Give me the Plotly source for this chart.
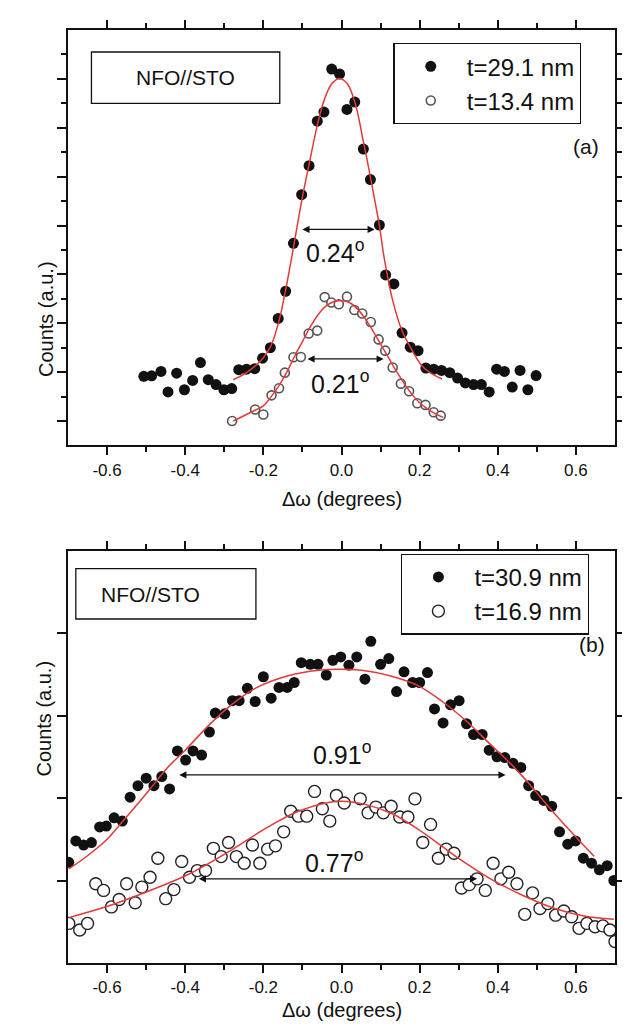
import plotly.graph_objects as go

FONT = "Liberation Sans, Arial, Helvetica, sans-serif"
INK = "#111111"
RED = "#e23b36"

# ---------------- Panel (a) data ----------------
a_thick_x = [-0.506, -0.486, -0.462, -0.444, -0.422, -0.402, -0.381, -0.361, -0.341, -0.321,
             -0.301, -0.281, -0.263, -0.243, -0.222, -0.202, -0.182, -0.162, -0.143, -0.123,
             -0.102, -0.083, -0.062, -0.045, -0.025, -0.005, 0.014, 0.034, 0.056, 0.074,
             0.097, 0.113, 0.134, 0.155, 0.176, 0.196, 0.216, 0.236, 0.256, 0.277,
             0.297, 0.317, 0.338, 0.358, 0.378, 0.397, 0.417, 0.437, 0.457, 0.477, 0.498]
a_thick_y = [2.83, 2.85, 3.03, 2.19, 2.96, 2.28, 2.66, 3.39, 2.69, 2.49,
             2.28, 2.33, 3.10, 3.12, 3.14, 3.57, 4.00, 5.20, 6.31, 8.27,
             10.26, 11.45, 13.27, 13.64, 15.40, 15.20, 13.75, 14.05, 12.13, 10.88,
             9.02, 6.98, 6.61, 4.61, 4.02, 3.88, 3.17, 3.12, 3.07, 2.98,
             2.76, 2.56, 2.49, 2.49, 2.19, 3.12, 3.03, 2.39, 3.07, 2.28, 2.86]

a_thin_x = [-0.280, -0.221, -0.200, -0.179, -0.160, -0.145, -0.123, -0.104, -0.084, -0.062,
            -0.043, -0.026, -0.007, 0.014, 0.033, 0.053, 0.075, 0.095, 0.112, 0.131,
            0.152, 0.173, 0.194, 0.215, 0.236, 0.254]
a_thin_y = [1.00, 1.47, 1.27, 2.05, 2.34, 2.98, 3.61, 3.62, 4.58, 4.70,
            6.07, 5.85, 5.78, 6.09, 5.54, 5.40, 5.05, 4.34, 3.88, 3.19,
            2.53, 2.22, 1.73, 1.66, 1.36, 1.22]

a_fit_thick_x = [-0.277, -0.242, -0.202, -0.180, -0.160, -0.145, -0.123, -0.102, -0.083, -0.062,
                 -0.045, -0.025, -0.005, 0.015, 0.035, 0.054, 0.075, 0.089, 0.097, 0.110,
                 0.130, 0.156, 0.177, 0.206, 0.230, 0.257]
a_fit_thick_y = [2.69, 2.99, 3.55, 4.10, 5.10, 6.20, 8.10, 10.00, 11.50, 13.10,
                 14.10, 14.80, 15.02, 14.80, 14.00, 12.60, 10.90, 9.70, 9.00, 7.60,
                 6.00, 4.65, 4.00, 3.25, 2.95, 2.72]

a_fit_thin_x = [-0.277, -0.22, -0.20, -0.18, -0.16, -0.14, -0.12, -0.10, -0.08, -0.06,
                -0.04, -0.02, 0.00, 0.02, 0.04, 0.06, 0.08, 0.10, 0.12, 0.14,
                0.16, 0.18, 0.20, 0.22, 0.24, 0.26]
a_fit_thin_y = [1.00, 1.45, 1.62, 2.00, 2.45, 3.00, 3.65, 4.25, 4.85, 5.35,
                5.70, 5.88, 5.92, 5.85, 5.60, 5.20, 4.70, 4.15, 3.60, 3.05,
                2.55, 2.10, 1.75, 1.50, 1.30, 1.15]

# ---------------- Panel (b) data ----------------
b_thick_x = [-0.698, -0.680, -0.660, -0.640, -0.619, -0.602, -0.582, -0.561, -0.541, -0.521,
             -0.500, -0.480, -0.460, -0.440, -0.420, -0.399, -0.380, -0.358, -0.338, -0.323,
             -0.299, -0.279, -0.262, -0.241, -0.221, -0.200, -0.180, -0.160, -0.139, -0.121,
             -0.103, -0.080, -0.060, -0.039, -0.022, -0.002, 0.019, 0.039, 0.060, 0.075,
             0.100, 0.121, 0.141, 0.160, 0.182, 0.200, 0.220, 0.238, 0.260, 0.279,
             0.301, 0.320, 0.338, 0.360, 0.378, 0.398, 0.418, 0.439, 0.459, 0.479,
             0.497, 0.518, 0.538, 0.558, 0.579, 0.599, 0.619, 0.640, 0.660, 0.680, 0.697]
b_thick_y = [1.22, 1.48, 1.43, 1.46, 1.65, 1.66, 1.76, 1.72, 2.01, 2.15,
             2.24, 2.15, 2.26, 2.11, 2.57, 2.46, 2.57, 2.52, 2.80, 3.03,
             3.02, 3.18, 3.18, 3.33, 3.17, 3.47, 3.21, 3.34, 3.34, 3.40,
             3.64, 3.62, 3.62, 3.49, 3.67, 3.71, 3.61, 3.71, 3.44, 3.90,
             3.62, 3.69, 3.29, 3.53, 3.40, 3.40, 3.52, 3.08, 2.91, 3.13,
             3.18, 2.90, 2.77, 2.77, 2.58, 2.50, 2.49, 2.42, 2.37, 2.15,
             2.03, 1.97, 1.90, 1.59, 1.44, 1.48, 1.27, 1.21, 1.13, 1.18, 1.00]

b_thin_x = [-0.698, -0.670, -0.650, -0.629, -0.609, -0.589, -0.569, -0.550, -0.528, -0.511,
            -0.490, -0.470, -0.450, -0.429, -0.409, -0.389, -0.369, -0.348, -0.328, -0.308,
            -0.289, -0.269, -0.249, -0.228, -0.209, -0.189, -0.169, -0.148, -0.130, -0.110,
            -0.089, -0.069, -0.049, -0.030, -0.013, 0.007, 0.048, 0.068, 0.088, 0.107,
            0.127, 0.149, 0.170, 0.188, 0.208, 0.228, 0.248, 0.268, 0.288, 0.307,
            0.327, 0.347, 0.368, 0.388, 0.408, 0.428, 0.449, 0.469, 0.489, 0.508,
            0.528, 0.548, 0.569, 0.589, 0.608, 0.628, 0.649, 0.669, 0.687, 0.700]
b_thin_y = [0.48, 0.40, 0.48, 0.96, 0.88, 0.68, 0.77, 0.96, 0.73, 0.92,
            1.04, 1.27, 0.78, 0.89, 1.23, 1.04, 1.12, 1.12, 1.39, 1.29,
            1.46, 1.29, 1.21, 1.43, 1.21, 1.38, 1.42, 1.59, 1.84, 1.78,
            1.78, 2.08, 1.87, 1.72, 2.03, 1.94, 1.99, 1.82, 1.89, 1.82,
            1.90, 1.77, 1.77, 1.99, 1.46, 1.68, 1.27, 1.38, 1.33, 0.91,
            0.95, 1.02, 0.88, 1.21, 1.02, 1.10, 0.96, 0.59, 0.85, 0.66,
            0.72, 0.58, 0.63, 0.56, 0.42, 0.48, 0.44, 0.45, 0.40, 0.26]

b_fit_thick_x = [-0.698, -0.650, -0.602, -0.556, -0.495, -0.445, -0.400, -0.338, -0.282, -0.221,
                 -0.139, -0.058, 0.000, 0.065, 0.126, 0.197, 0.258, 0.320, 0.381, 0.432,
                 0.479, 0.540, 0.601, 0.647]
b_fit_thick_y = [1.14, 1.30, 1.49, 1.74, 2.08, 2.37, 2.58, 2.89, 3.13, 3.33,
                 3.48, 3.55, 3.56, 3.54, 3.48, 3.36, 3.17, 2.93, 2.65, 2.42,
                 2.18, 1.84, 1.52, 1.29]

b_fit_thin_x = [-0.698, -0.597, -0.495, -0.394, -0.292, -0.191, -0.110, -0.008, 0.063, 0.134,
                0.215, 0.296, 0.378, 0.459, 0.540, 0.621, 0.697]
b_fit_thin_y = [0.55, 0.69, 0.87, 1.07, 1.34, 1.64, 1.84, 1.96, 1.92, 1.80,
                1.56, 1.28, 1.03, 0.83, 0.67, 0.57, 0.53]

# ticks
x_tick_vals = [-0.6, -0.4, -0.2, 0.0, 0.2, 0.4, 0.6]
x_tick_text = ["-0.6", "-0.4", "-0.2", "0.0", "0.2", "0.4", "0.6"]
x_minor_vals = [-0.5, -0.3, -0.1, 0.1, 0.3, 0.5]
a_y_major = [1, 3, 5, 7, 9, 11, 13, 15]
a_y_minor = [2, 4, 6, 8, 10, 12, 14, 16]
b_y_major = [1, 2, 3, 4]

# FWHM arrows: (x_left, x_right, y)
a_arrow_thick = (-0.104, 0.085, 8.84)
a_arrow_thin = (-0.091, 0.108, 3.54)
b_arrow_thick = (-0.419, 0.420, 2.28)
b_arrow_thin = (-0.369, 0.347, 1.02)

fig = go.Figure()

# panel (a)
fig.add_trace(go.Scatter(x=a_thick_x, y=a_thick_y, mode="markers", name="t=29.1 nm",
                         marker=dict(size=11, color=INK), xaxis="x", yaxis="y", legend="legend"))
fig.add_trace(go.Scatter(x=a_thin_x, y=a_thin_y, mode="markers", name="t=13.4 nm",
                         marker=dict(size=9, color="white", line=dict(color="#555555", width=1.6)),
                         xaxis="x", yaxis="y", legend="legend"))
fig.add_trace(go.Scatter(x=a_fit_thick_x, y=a_fit_thick_y, mode="lines", showlegend=False,
                         line=dict(color=RED, width=1.5, shape="spline"), xaxis="x", yaxis="y"))
fig.add_trace(go.Scatter(x=a_fit_thin_x, y=a_fit_thin_y, mode="lines", showlegend=False,
                         line=dict(color=RED, width=1.5, shape="spline"), xaxis="x", yaxis="y"))

# panel (b)
fig.add_trace(go.Scatter(x=b_thick_x, y=b_thick_y, mode="markers", name="t=30.9 nm",
                         marker=dict(size=11, color=INK), xaxis="x2", yaxis="y2", legend="legend2"))
fig.add_trace(go.Scatter(x=b_thin_x, y=b_thin_y, mode="markers", name="t=16.9 nm",
                         marker=dict(size=12, color="white", line=dict(color="#222222", width=1.4)),
                         xaxis="x2", yaxis="y2", legend="legend2"))
fig.add_trace(go.Scatter(x=b_fit_thick_x, y=b_fit_thick_y, mode="lines", showlegend=False,
                         line=dict(color=RED, width=1.5, shape="spline"), xaxis="x2", yaxis="y2"))
fig.add_trace(go.Scatter(x=b_fit_thin_x, y=b_fit_thin_y, mode="lines", showlegend=False,
                         line=dict(color=RED, width=1.5, shape="spline"), xaxis="x2", yaxis="y2"))

axis_common = dict(showline=True, linecolor=INK, linewidth=2, mirror="allticks",
                   ticks="outside", tickcolor=INK, tickwidth=1.6, ticklen=9,
                   showgrid=False, zeroline=False,
                   tickfont=dict(family=FONT, size=17, color=INK))

xcommon = dict(axis_common, range=[-0.7, 0.7], tickmode="array", tickvals=x_tick_vals,
               ticktext=x_tick_text, ticklen=8,
               minor=dict(tickmode="array", tickvals=x_minor_vals, ticklen=5, ticks="outside",
                          tickcolor=INK, tickwidth=1.6))

# plot area: x 60..618 px ; panel (a) 14..433 px ; panel (b) 539..955 px  (height 941)
layout_axes = dict(
    xaxis=dict(xcommon, domain=[0, 1], anchor="y"),
    yaxis=dict(axis_common, domain=[0.5547, 1.0], anchor="x", range=[0, 17],
               tickmode="array", tickvals=a_y_major, showticklabels=False,
               minor=dict(tickmode="array", tickvals=a_y_minor, ticklen=5, ticks="outside",
                          tickcolor=INK, tickwidth=1.6)),
    xaxis2=dict(xcommon, domain=[0, 1], anchor="y2"),
    yaxis2=dict(axis_common, domain=[0.0, 0.4421], anchor="x2", range=[0, 5],
                tickmode="array", tickvals=b_y_major, showticklabels=False),
)

ann = []
def txt(text, x, y, xref, yref, size, **kw):
    d = dict(text=text, x=x, y=y, xref=xref, yref=yref, showarrow=False,
             font=dict(family=FONT, size=size, color=INK))
    d.update(kw)
    ann.append(d)

def arrow(spec, xref, yref):
    x0, x1, y = spec
    ann.append(dict(x=x1, y=y, ax=x0, ay=y, xref=xref, yref=yref, axref=xref, ayref=yref,
                    text="", showarrow=True, arrowhead=2, startarrowhead=2,
                    arrowside="end+start", arrowsize=1.1, startarrowsize=1.1,
                    arrowwidth=1.3, arrowcolor=INK, standoff=0, startstandoff=0))

# axis titles (paper coords; plot height 941 px, bottom at 955 px)
txt("Counts (a.u.)", 0, 0.7545, "paper", "paper", 20, textangle=-90, xshift=-35)
txt("Counts (a.u.)", 0, 0.1977, "paper", "paper", 20, textangle=-90, xshift=-37)
txt("\u0394\u03c9 (degrees)", 0.5, 0.4973, "paper", "paper", 20)
txt("\u0394\u03c9 (degrees)", 0.5, -0.0638, "paper", "paper", 20)

# panel labels
txt("NFO//STO", -0.40, 15.05, "x", "y", 21)
txt("(a)", 0.625, 12.22, "x", "y", 21)
txt("NFO//STO", -0.49, 4.47, "x2", "y2", 21)
txt("(b)", 0.641, 3.86, "x2", "y2", 21)

# FWHM labels
txt("0.24<sup>o</sup>", -0.016, 7.95, "x", "y", 25)
txt("0.21<sup>o</sup>", -0.003, 2.58, "x", "y", 25)
txt("0.91<sup>o</sup>", 0.000, 2.55, "x2", "y2", 25)
txt("0.77<sup>o</sup>", -0.018, 1.24, "x2", "y2", 25)

arrow(a_arrow_thick, "x", "y")
arrow(a_arrow_thin, "x", "y")
arrow(b_arrow_thick, "x2", "y2")
arrow(b_arrow_thin, "x2", "y2")

shapes = [
    dict(type="rect", xref="x", yref="y", x0=-0.640, x1=-0.158, y0=14.0, y1=16.1,
         line=dict(color=INK, width=1.3), fillcolor="white", layer="below"),
    dict(type="rect", xref="x2", yref="y2", x0=-0.680, x1=-0.219, y0=4.17, y1=4.78,
         line=dict(color=INK, width=1.3), fillcolor="white", layer="below"),
]

legend_common = dict(xanchor="left", yanchor="top", bordercolor=INK, borderwidth=1.3,
                     bgcolor="white", font=dict(family=FONT, size=24, color=INK),
                     itemwidth=62, tracegroupgap=0)

fig.update_layout(
    width=630, height=1026,
    margin=dict(l=60, r=12, t=14, b=71),
    paper_bgcolor="white", plot_bgcolor="white",
    font=dict(family=FONT, color=INK),
    legend=dict(legend_common, x=0.595, y=0.9862),
    legend2=dict(legend_common, x=0.609, y=0.4389),
    annotations=ann,
    shapes=shapes,
    **layout_axes,
)

fig.write_html("out.html")
